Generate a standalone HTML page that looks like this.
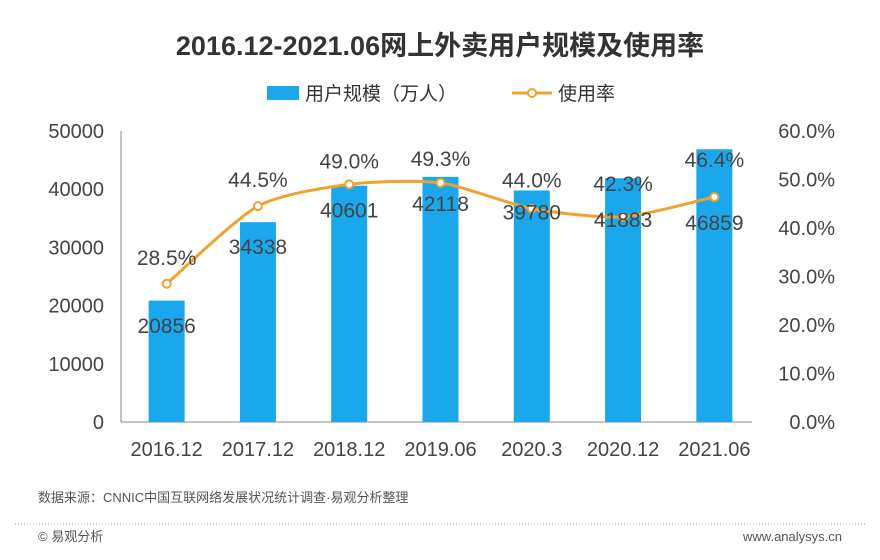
<!DOCTYPE html>
<html><head><meta charset="utf-8"><style>
body{margin:0;background:#fff;}
svg{display:block;font-family:"Liberation Sans","Noto Sans CJK SC",sans-serif;}
</style></head><body>
<svg id="c" width="880" height="560" viewBox="0 0 880 560">
<text x="440" y="55" text-anchor="middle" font-size="27" font-weight="bold" fill="#333">2016.12-2021.06网上外卖用户规模及使用率</text>
<g>
<rect x="267" y="86" width="32" height="14" fill="#1aa7ec"/>
<text x="305" y="100" font-size="19" fill="#333">用户规模（万人）</text>
<line x1="512" y1="93" x2="552" y2="93" stroke="#f0a22e" stroke-width="3"/>
<circle cx="532" cy="93" r="4" fill="#fff" stroke="#f0a22e" stroke-width="2"/>
<text x="558" y="100" font-size="19" fill="#333">使用率</text>
</g>
<g id="plot"></g>
<text x="38" y="502" font-size="13" fill="#555">数据来源：CNNIC中国互联网络发展状况统计调查·易观分析整理</text>
<line x1="15" y1="524" x2="865" y2="524" stroke="#999" stroke-width="1" stroke-dasharray="1,2"/>
<text x="38" y="541" font-size="13" fill="#555">© 易观分析</text>
<text x="842" y="541" font-size="13" fill="#555" text-anchor="end">www.analysys.cn</text>
</svg>
<script>
const categories=["2016.12","2017.12","2018.12","2019.06","2020.3","2020.12","2021.06"];
const users=[20856,34338,40601,42118,39780,41883,46859];
const rates=[28.5,44.5,49.0,49.3,44.0,42.3,46.4];
const leftTicks=[0,10000,20000,30000,40000,50000];
const rightTicks=[0,10,20,30,40,50,60];
// label offsets relative to line points (layout only)
const barLabelDy=[42,41,26,21,4,3,26];
const rateLabelDy=[-26,-26,-23,-24,-28,-33,-37];
const NS="http://www.w3.org/2000/svg";
const g=document.getElementById('plot');
const X0=121,X1=760,Y0=422,Y1=131;
const band=(X1-X0)/categories.length;
const xc=i=>X0+band*(i+0.5);
const yL=v=>Y0-(v/50000)*(Y0-Y1);
const yR=v=>Y0-(v/60)*(Y0-Y1);
function mk(t,a,txt){const e=document.createElementNS(NS,t);for(const k in a)e.setAttribute(k,a[k]);if(txt!==undefined)e.textContent=txt;g.appendChild(e);return e;}
let e;
e=mk('line',{x1:X0,y1:Y1,x2:X0,y2:Y0,stroke:'#888'});


e=mk('line',{x1:X0,y1:Y0,x2:X1-8,y2:Y0,stroke:'#888'});


leftTicks.forEach(v=>{e=mk('text',{x:104,y:yL(v)+7,'text-anchor':'end','font-size':20,fill:'#444'},String(v));

});
rightTicks.forEach(v=>{e=mk('text',{x:835,y:yR(v)+7,'text-anchor':'end','font-size':20,fill:'#444'},v.toFixed(1)+'%');

});
categories.forEach((c,i)=>{e=mk('text',{x:xc(i),y:456,'text-anchor':'middle','font-size':20,fill:'#444'},c);

});
users.forEach((v,i)=>{e=mk('rect',{x:xc(i)-18,y:yL(v),width:36,height:Y0-yL(v),fill:'#1aa7ec'});

});
const pts=rates.map((v,i)=>[xc(i),yR(v)]);
let d='M'+pts[0][0]+','+pts[0][1];
for(let i=0;i<pts.length-1;i++){const p0=pts[i-1]||pts[i],p1=pts[i],p2=pts[i+1],p3=pts[i+2]||p2;const t=0.12;
d+=` C${p1[0]+(p2[0]-p0[0])*t},${p1[1]+(p2[1]-p0[1])*t} ${p2[0]-(p3[0]-p1[0])*t},${p2[1]-(p3[1]-p1[1])*t} ${p2[0]},${p2[1]}`;}
e=mk('path',{d:d,fill:'none',stroke:'#f0a22e','stroke-width':3});


pts.forEach((p,i)=>{e=mk('circle',{cx:p[0],cy:p[1],r:4,fill:'#fff',stroke:'#f0a22e','stroke-width':2});

});
users.forEach((v,i)=>{e=mk('text',{x:xc(i),y:pts[i][1]+barLabelDy[i]+7,'text-anchor':'middle','font-size':21,fill:'#444'},String(v));

});
rates.forEach((v,i)=>{e=mk('text',{x:xc(i),y:pts[i][1]+rateLabelDy[i]+7,'text-anchor':'middle','font-size':21,fill:'#444'},v.toFixed(1)+'%');

});
</script>
</body></html>
